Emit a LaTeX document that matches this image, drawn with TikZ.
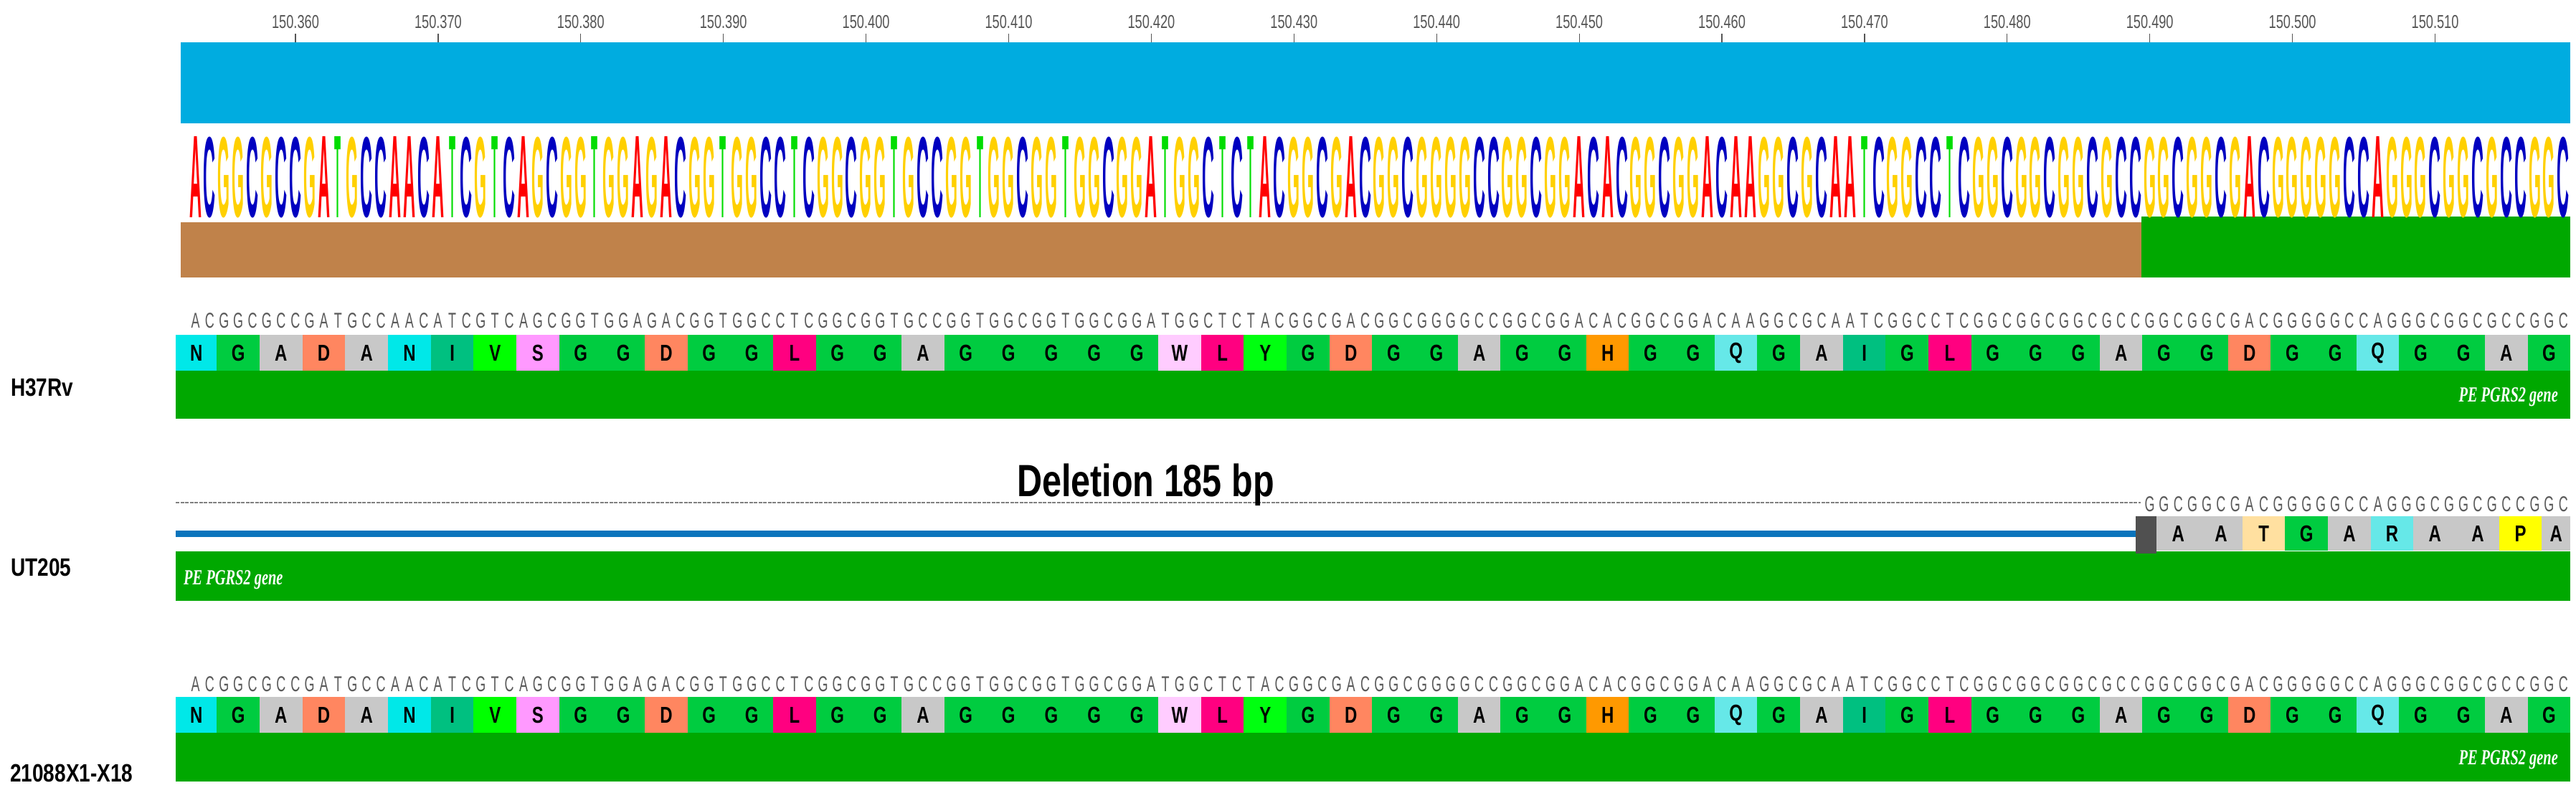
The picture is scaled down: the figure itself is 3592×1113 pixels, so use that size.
\documentclass[tikz,border=0pt]{standalone}
\usepackage{fontspec}
\usepackage{graphicx}
\setmainfont{Liberation Sans}
\newfontfamily\tickfont[FakeStretch=0.7]{Liberation Sans}
\newfontfamily\seqfont[FakeStretch=0.6]{Liberation Sans}
\newfontfamily\aafont[FakeStretch=0.75]{Liberation Sans}
\newfontfamily\labfont[FakeStretch=0.8]{Liberation Sans}
\newfontfamily\delfont[FakeStretch=0.77]{Liberation Sans}
\newfontfamily\genefont[FakeStretch=0.68]{Liberation Serif}
\newfontfamily\logofont{Liberation Sans}
\definecolor{topblue}{HTML}{00ACE0}
\definecolor{brownbar}{HTML}{C0824A}
\definecolor{genegreen}{HTML}{00A800}
\definecolor{logoA}{HTML}{FF0000}
\definecolor{logoC}{HTML}{0000C0}
\definecolor{logoG}{HTML}{FFD000}
\definecolor{logoT}{HTML}{00DD00}
\definecolor{aaN}{HTML}{00E8E8}
\definecolor{aaG}{HTML}{00CC40}
\definecolor{aaA}{HTML}{C8C8C8}
\definecolor{aaD}{HTML}{FF8660}
\definecolor{aaI}{HTML}{00C080}
\definecolor{aaV}{HTML}{00FF00}
\definecolor{aaS}{HTML}{FF99FF}
\definecolor{aaL}{HTML}{FF0080}
\definecolor{aaW}{HTML}{FFCCFF}
\definecolor{aaY}{HTML}{00FF10}
\definecolor{aaH}{HTML}{FF9900}
\definecolor{aaQ}{HTML}{66E8E8}
\definecolor{aaT}{HTML}{FFE0A0}
\definecolor{aaR}{HTML}{66E8E8}
\definecolor{aaP}{HTML}{FFFF00}
\definecolor{darkcell}{HTML}{505050}
\definecolor{delblue}{HTML}{0A74BC}
\definecolor{seqgray}{HTML}{5A5A5A}
\definecolor{tickgray}{HTML}{555555}
\def\lwA{17}\def\lwC{17}\def\lwG{17}\def\lwT{9}
\def\seqH{A,C,%
G,G,C,G,C,C,G,A,T,G,C,C,A,A,C,A,T,C,G,T,C,A,G,C,G,G,T,G,G,A,%
G,A,C,G,G,T,G,G,C,C,T,C,G,G,C,G,G,T,G,C,C,G,G,T,G,G,C,G,G,T,%
G,G,C,G,G,A,T,G,G,C,T,C,T,A,C,G,G,C,G,A,C,G,G,C,G,G,G,G,C,C,%
G,G,C,G,G,A,C,A,C,G,G,C,G,G,A,C,A,A,G,G,C,G,C,A,A,T,C,G,G,C,%
C,T,C,G,G,C,G,G,C,G,G,C,G,C,C,G,G,C,G,G,C,G,A,C,G,G,G,G,G,C,%
C,A,G,G,G,C,G,G,C,G,C,C,G,G,C}
\def\seqU{G,G,C,G,G,C,G,A,C,G,G,G,G,G,C,C,A,G,G,G,C,G,G,C,G,C,C,G,G,C}
\def\aaList{G,A,D,A,N,I,V,S,G,G,D,G,G,L,G,G,A,G,G,G,G,G,W,L,Y,G,D,G,G,A,%
G,G,H,G,G,Q,G,A,I,G,L,G,G,G,A,G,G,D,G,G,Q,G,G,A,G}
\def\aaU{A,A,T,G,A,R,A,A,P}
\begin{document}
\begin{tikzpicture}[x=1pt,y=-1pt,
  bar/.style={inner sep=0,outer sep=0,anchor=north west,draw=none},
  ticklabel/.style={inner sep=0,anchor=base,text=tickgray,font=\tickfont\fontsize{26}{26}\selectfont},
  tickline/.style={draw=tickgray,line width=1.2},
  logoletter/.style={inner sep=0,anchor=south},
  seqletter/.style={inner sep=0,anchor=base,text=seqgray,font=\seqfont\fontsize{30}{30}\selectfont},
  aacell/.style={inner sep=0,outer sep=0,minimum width=59.9,minimum height=50,text=black,font=\aafont\bfseries\fontsize{32}{32}\selectfont},
  rowlabel/.style={inner sep=0,anchor=base west,text=black,font=\labfont\bfseries\fontsize{35}{35}\selectfont},
  genelabel/.style={inner sep=0,text=white,font=\genefont\bfseries\itshape\fontsize{30}{30}\selectfont}]
\useasboundingbox (0,0) rectangle (3592,1113);
\fill[white] (0,0) rectangle (3592,1113);
% top blue bar
\node[bar,fill=topblue,minimum width=3332,minimum height=113] (topbar) at (252,59) {};
% ticks
\foreach \t [count=\k from 0] in {360,370,...,510}{
  \pgfmathsetmacro\xx{412+(\t-360)*19.89}
  \node[ticklabel] (tl\k) at (\xx,40) {150.\t};
  \coordinate (ta\k) at (\xx,47);
  \coordinate (tb\k) at (\xx,59);
  \draw[tickline] (ta\k) -- (tb\k);
}
% brown and green annotation bars
\node[bar,fill=brownbar,minimum width=2734,minimum height=77] (brown) at (252,310) {};
\node[bar,fill=genegreen,minimum width=598,minimum height=85] (topgreen) at (2986,302) {};
% sequence logo
\foreach \nt [count=\n from 0] in \seqH {
  \pgfmathsetmacro\xx{262.6+(\n+0.5)*19.89}
  \node[logoletter,text=logo\nt] (lg\n) at (\xx,304) {\resizebox*{\csname lw\nt\endcsname pt}{113pt}{\logofont\bfseries\nt}};
}
% ---------- H37Rv ----------
\foreach \nt [count=\n from 0] in \seqH {
  \pgfmathsetmacro\xx{262.6+(\n+0.5)*19.89}
  \node[seqletter] (hs\n) at (\xx,457) {\nt};
}
\node[aacell,fill=aaN,minimum width=57.4] (ha0) at (273.7,492) {N};
\foreach \a [count=\k from 1] in \aaList {
  \pgfmathsetmacro\xx{302.4+(\k-0.5)*59.67}
  \node[aacell,fill=aa\a] (ha\k) at (\xx,492) {\a};
}
\node[bar,fill=genegreen,minimum width=3339,minimum height=67] (hgene) at (245,517) {};
\node[rowlabel] (lH) at (15,552) {H37Rv};
\node[genelabel,anchor=base east] (gH) at (3567,560) {PE PGRS2 gene};
% ---------- UT205 ----------
\coordinate (dl0) at (245,701);
\coordinate (dl1) at (2985,701);
\draw[draw=gray,line width=2.2,dash pattern=on 5pt off 1.5pt] (dl0) -- (dl1);
\node[anchor=base west,inner sep=0,font=\delfont\bfseries\fontsize{63}{63}\selectfont] (del) at (1418,692) {Deletion 185 bp};
\coordinate (bl0) at (245,744.5);
\coordinate (bl1) at (2980,744.5);
\draw[draw=delblue,line width=9] (bl0) -- (bl1);
\foreach \nt [count=\n from 137] in \seqU {
  \pgfmathsetmacro\xx{262.6+(\n+0.5)*19.89}
  \node[seqletter] (us\n) at (\xx,713) {\nt};
}
\node[bar,fill=genegreen,minimum width=3339,minimum height=69] (ugene) at (245,769) {};
\node[aacell,fill=darkcell,minimum width=29.4,minimum height=52,anchor=north west] (ud) at (2978,720) {};
\foreach \a [count=\k from 1] in \aaU {
  \pgfmathsetmacro\xx{3007.4+(\k-0.5)*59.67}
  \node[aacell,fill=aa\a,minimum height=48] (ua\k) at (\xx,744) {\a};
}
\node[aacell,fill=aaA,minimum width=39.8,minimum height=48] (ua10) at (3564.2,744) {A};
\node[rowlabel] (lU) at (15,803) {UT205};
\node[genelabel,anchor=base west] (gU) at (256,815) {PE PGRS2 gene};
% ---------- 21088X1-X18 ----------
\foreach \nt [count=\n from 0] in \seqH {
  \pgfmathsetmacro\xx{262.6+(\n+0.5)*19.89}
  \node[seqletter] (xs\n) at (\xx,964) {\nt};
}
\node[aacell,fill=aaN,minimum width=57.4] (xa0) at (273.7,997) {N};
\foreach \a [count=\k from 1] in \aaList {
  \pgfmathsetmacro\xx{302.4+(\k-0.5)*59.67}
  \node[aacell,fill=aa\a] (xa\k) at (\xx,997) {\a};
}
\node[bar,fill=genegreen,minimum width=3339,minimum height=68] (xgene) at (245,1022) {};
\node[rowlabel] (lX) at (14,1090) {21088X1-X18};
\node[genelabel,anchor=base east] (gX) at (3567,1066) {PE PGRS2 gene};
\end{tikzpicture}
\end{document}
